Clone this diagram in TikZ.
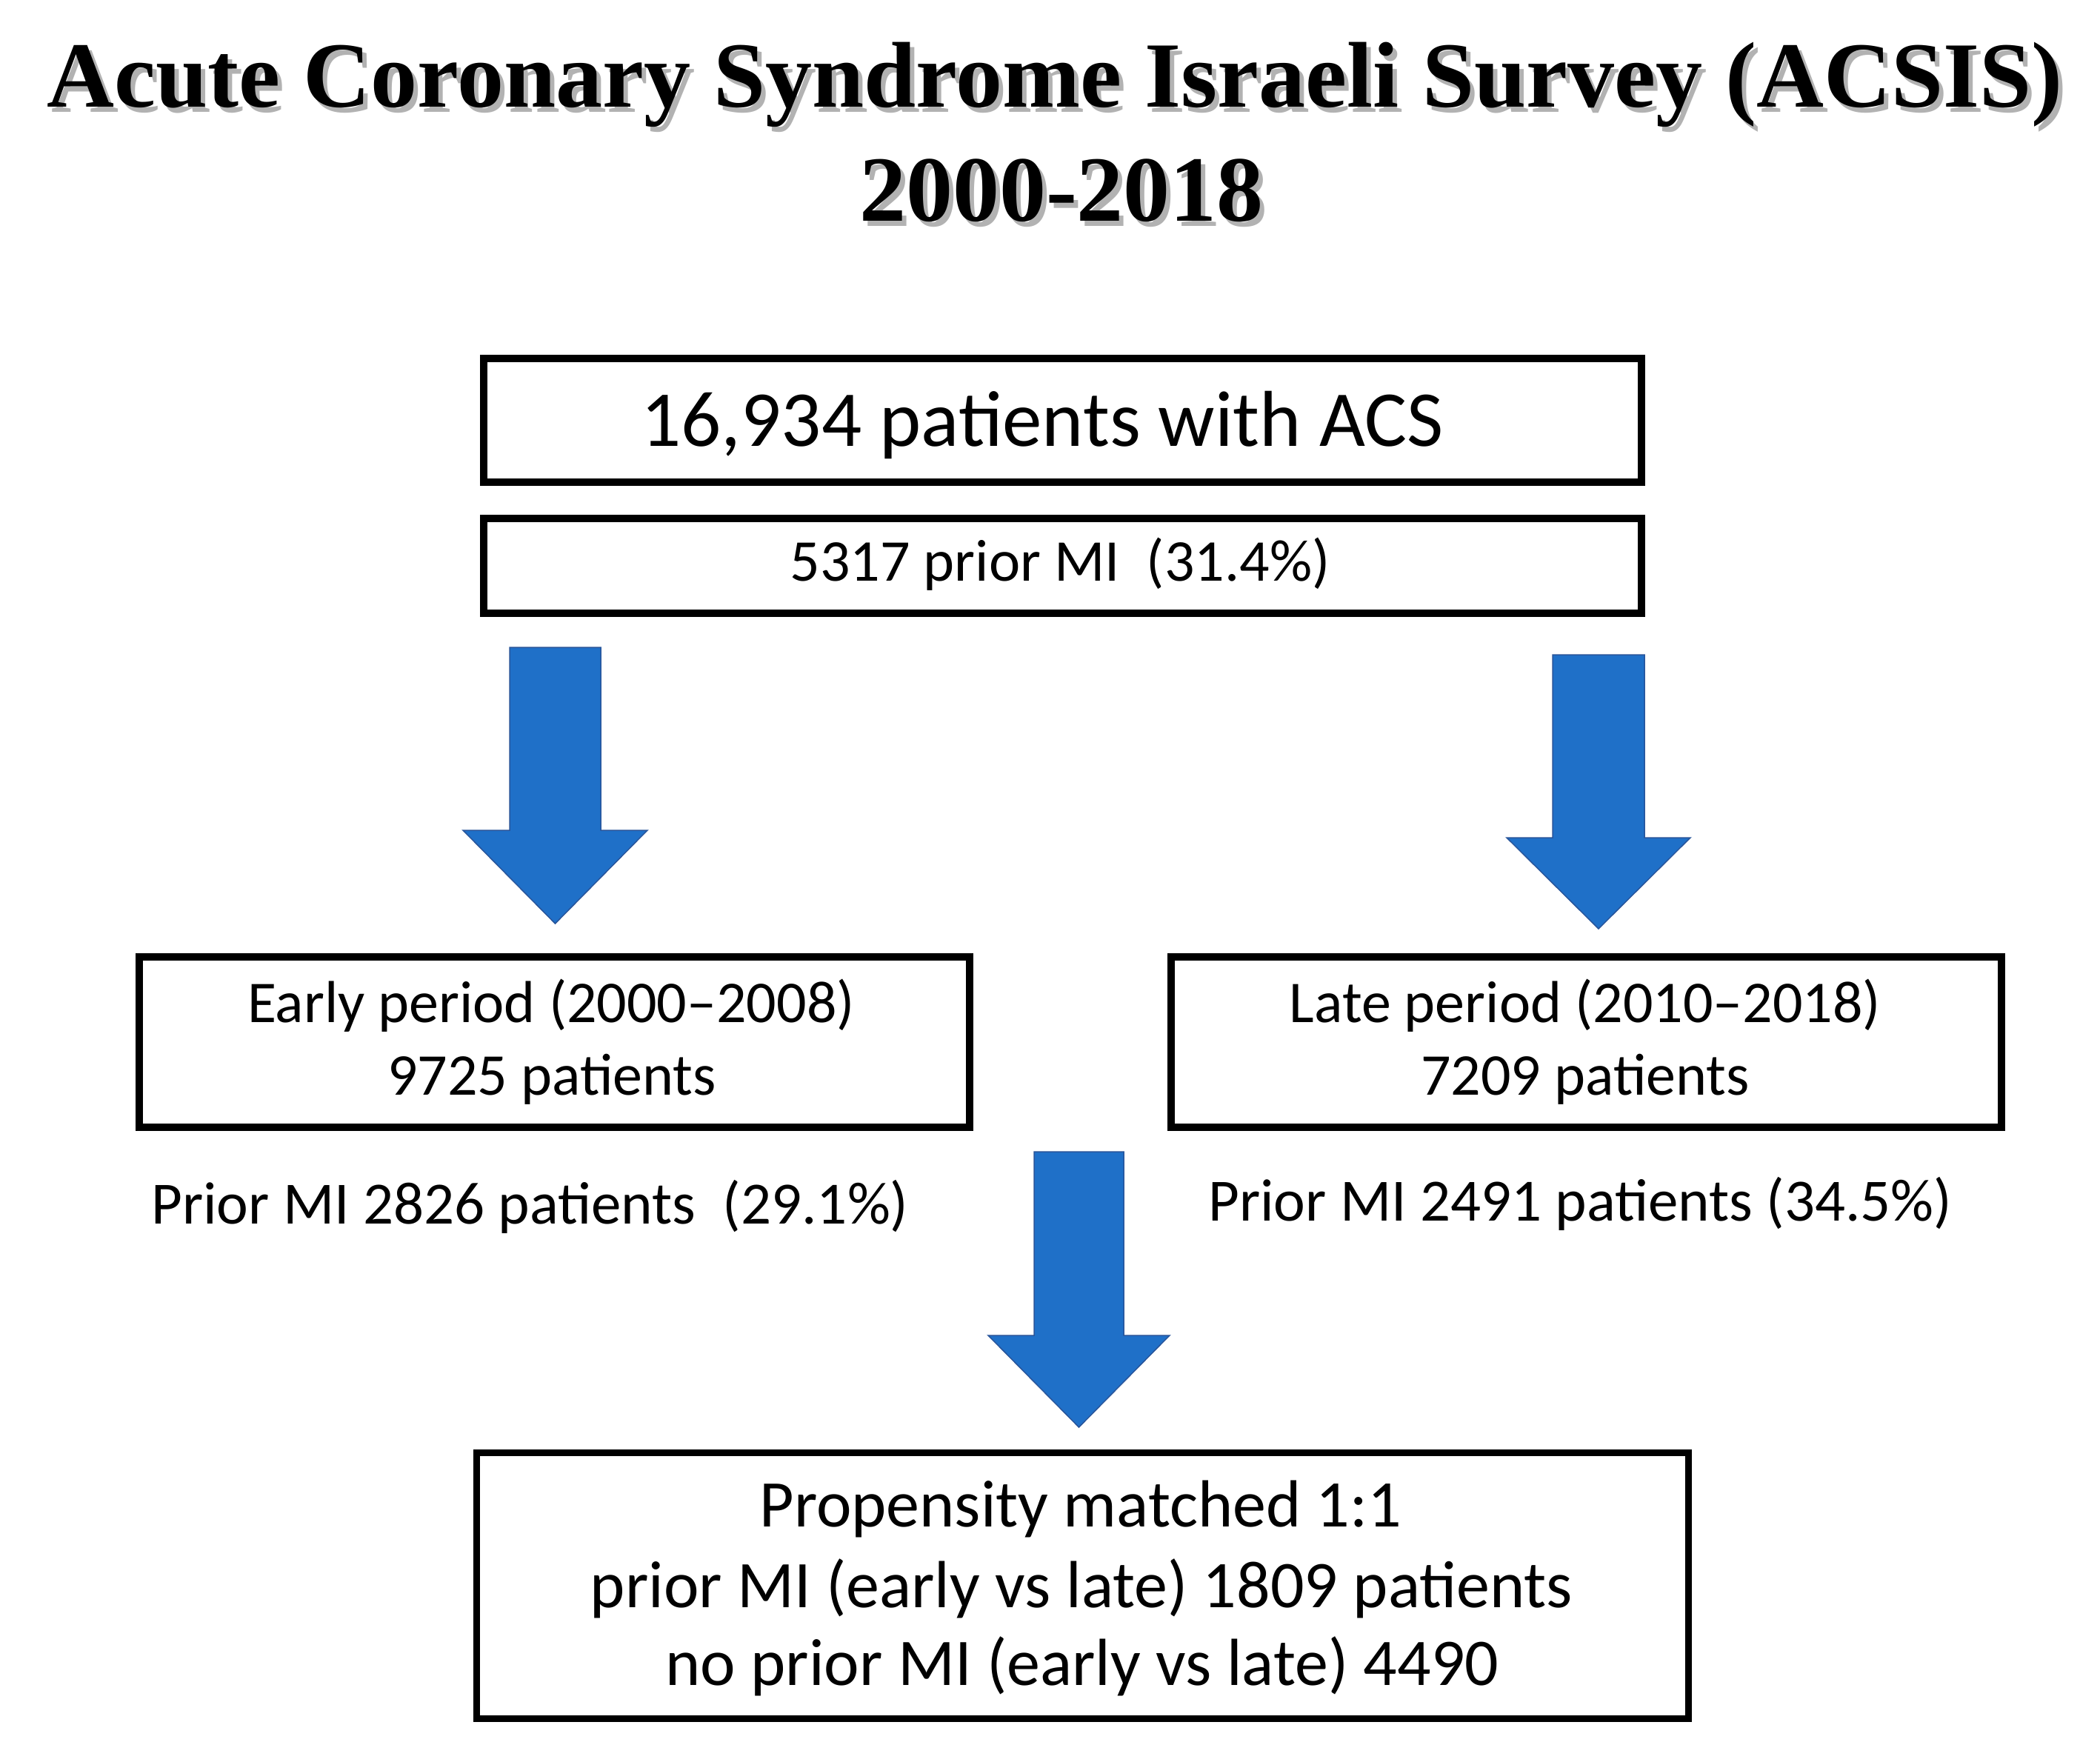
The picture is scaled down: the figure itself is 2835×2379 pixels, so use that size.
\documentclass[tikz,border=0pt]{standalone}
\usepackage{fontspec}
\setmainfont{Carlito}
\newfontfamily\titlefont{Liberation Serif}
\newcommand\setfsz[1]{\fontsize{#1}{#1}\selectfont}
\newcommand\shadowtext[1]{\makebox[0pt][l]{\hspace{6pt}\raisebox{-7pt}{\textcolor{black!30}{#1}}}#1}
\definecolor{arrowblue}{RGB}{31,112,200}
\definecolor{arrowedge}{RGB}{40,85,155}
\newcommand\blockarr[7]{%
  % #1 name, #2 cx, #3 top, #4 head top, #5 tip, #6 shaft half, #7 head half
  \coordinate (#1-top) at (#2,#3);
  \coordinate (#1-tip) at (#2,#5);
  \draw[blockarrow] ({#2-#6},#3) -- ({#2+#6},#3) -- ({#2+#6},#4) -- ({#2+#7},#4)
    -- (#1-tip) -- ({#2-#7},#4) -- ({#2-#6},#4) -- cycle;
}
\begin{document}
\begin{tikzpicture}[x=1pt,y=-1pt,
  box/.style={draw=black, line width=10pt, rectangle, inner sep=0pt},
  txt/.style={inner sep=0pt, anchor=base},
  txtw/.style={inner sep=0pt, anchor=base west},
  blockarrow/.style={fill=arrowblue, draw=arrowedge, line width=1.5pt, line join=miter}]
\fill[white] (0,0) rectangle (2835,2379);
\useasboundingbox (0,0) rectangle (2835,2379);

% Title with shadow
\node[txt] (t1) at (1424,145) {\titlefont\bfseries\setfsz{126}\shadowtext{Acute Coronary Syndrome Israeli Survey (ACSIS)}};
\node[txt] (t2) at (1433,298) {\titlefont\bfseries\setfsz{126}\shadowtext{2000-2018}};

% Top boxes
\node[box, minimum width=1563pt, minimum height=167pt] (acs) at (1434.5,567.5) {};
\node[txt] (acsT) at (1407,602) {\setfsz{107}16,934 patients with ACS};
\node[box, minimum width=1563pt, minimum height=128pt] (pmi) at (1434.5,764) {};
\node[txt] (pmiT) at (1431,784) {\setfsz{80}5317 prior MI\ \ (31.4\%)};

% Arrows
\blockarr{aL}{749.5}{874}{1121}{1247}{61.5}{124.5}
\blockarr{aR}{2158}{884}{1131}{1254}{62}{124}

% Period boxes
\node[box, minimum width=1121pt, minimum height=230pt] (early) at (748.5,1407) {};
\node[txt] (earlyA) at (744,1380) {\setfsz{80}Early period (2000–2008)};
\node[txt] (earlyB) at (745,1478) {\setfsz{80}9725 patients};
\node[box, minimum width=1121pt, minimum height=230pt] (late) at (2141.5,1407) {};
\node[txt] (lateA) at (2140,1380) {\setfsz{80}Late period (2010–2018)};
\node[txt] (lateB) at (2140,1478) {\setfsz{80}7209 patients};

\node[txtw] (priorE) at (204,1652) {\setfsz{81}Prior MI 2826 patients\ \ (29.1\%)};
\node[txtw] (priorL) at (1631,1648) {\setfsz{81}Prior MI 2491 patients (34.5\%)};

\blockarr{aM}{1456.5}{1555}{1803}{1927}{60.5}{122.5}

% Bottom box
\node[box, line width=9pt, minimum width=1636pt, minimum height=359pt] (pm) at (1461,2140.5) {};
\node[txt] (pmA) at (1459,2061) {\setfsz{90}Propensity matched 1:1};
\node[txt] (pmB) at (1460,2170) {\setfsz{90}prior MI (early vs late) 1809 patients};
\node[txt] (pmC) at (1461,2275) {\setfsz{90}no prior MI (early vs late) 4490};
\end{tikzpicture}
\end{document}
